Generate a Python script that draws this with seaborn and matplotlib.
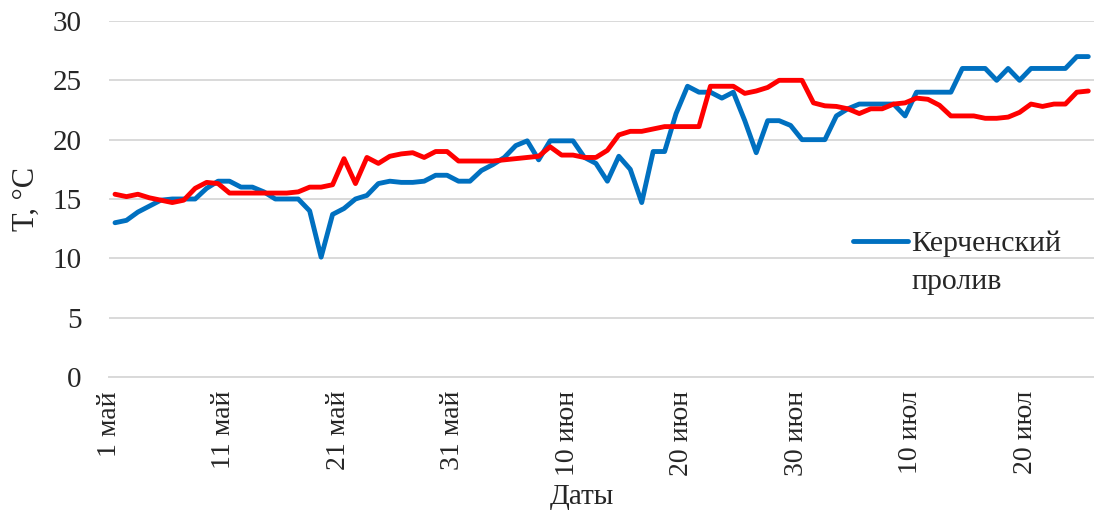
import pandas as pd
import numpy as np
import matplotlib
matplotlib.use("Agg")
import matplotlib.pyplot as plt
import matplotlib.ticker as mticker
from matplotlib.lines import Line2D
import seaborn as sns

# -----------------------------
# данные (1 май - 25 июл, по дням)
# -----------------------------
start_date = "2020-05-01"
n_days = 86

temp_kerch = [
    13.0, 13.2, 13.9, 14.4, 14.9, 15.0, 15.0, 15.0, 15.9, 16.5,
    16.5, 16.0, 16.0, 15.6, 15.0, 15.0, 15.0, 14.0, 10.1, 13.7,
    14.2, 15.0, 15.3, 16.3, 16.5, 16.4, 16.4, 16.5, 17.0, 17.0,
    16.5, 16.5, 17.4, 17.9, 18.5, 19.5, 19.9, 18.3, 19.9, 19.9,
    19.9, 18.5, 18.0, 16.5, 18.6, 17.5, 14.7, 19.0, 19.0, 22.2,
    24.5, 24.0, 24.0, 23.5, 24.0, 21.6, 18.9, 21.6, 21.6, 21.2,
    20.0, 20.0, 20.0, 22.0, 22.6, 23.0, 23.0, 23.0, 23.0, 22.0,
    24.0, 24.0, 24.0, 24.0, 26.0, 26.0, 26.0, 25.0, 26.0, 25.0,
    26.0, 26.0, 26.0, 26.0, 27.0, 27.0,
]

temp_red = [
    15.4, 15.2, 15.4, 15.1, 14.9, 14.7, 14.9, 15.9, 16.4, 16.3,
    15.5, 15.5, 15.5, 15.5, 15.5, 15.5, 15.6, 16.0, 16.0, 16.2,
    18.4, 16.3, 18.5, 18.0, 18.6, 18.8, 18.9, 18.5, 19.0, 19.0,
    18.2, 18.2, 18.2, 18.2, 18.3, 18.4, 18.5, 18.6, 19.4, 18.7,
    18.7, 18.5, 18.5, 19.1, 20.4, 20.7, 20.7, 20.9, 21.1, 21.1,
    21.1, 21.1, 24.5, 24.5, 24.5, 23.9, 24.1, 24.4, 25.0, 25.0,
    25.0, 23.1, 22.85, 22.8, 22.6, 22.2, 22.6, 22.6, 23.0, 23.1,
    23.5, 23.4, 22.9, 22.0, 22.0, 22.0, 21.8, 21.8, 21.9, 22.3,
    23.0, 22.8, 23.0, 23.0, 24.0, 24.1,
]

tick_dates = ["2020-05-01", "2020-05-11", "2020-05-21", "2020-05-31", "2020-06-10",
              "2020-06-20", "2020-06-30", "2020-07-10", "2020-07-20"]
tick_labels = ["1 май", "11 май", "21 май", "31 май", "10 июн",
               "20 июн", "30 июн", "10 июл", "20 июл"]

# -----------------------------
# оформление
# -----------------------------
sns.set_style("white")
plt.rcParams['font.family'] = ['Liberation Serif', 'DejaVu Serif']
plt.rcParams['axes.unicode_minus'] = False

# точки стоят в середине дня (как в Excel)
dates = pd.date_range(start_date, periods=n_days, freq="D") + pd.Timedelta(hours=12)
df = pd.DataFrame({"date": dates, "kerch": temp_kerch, "red": temp_red})

fig = plt.figure(figsize=(10.94, 5.17), dpi=100)
ax = fig.add_axes([0.0999, 0.2708, 0.9001, 0.6886])

sns.lineplot(data=df, x="date", y="kerch", ax=ax, color="#0070C0", linewidth=3.5)
sns.lineplot(data=df, x="date", y="red", ax=ax, color="#FF0000", linewidth=3.5)

ax.set_xlim(pd.Timestamp(start_date), pd.Timestamp(start_date) + pd.Timedelta(days=n_days))
ax.set_ylim(0, 30)
ax.yaxis.set_major_locator(mticker.MultipleLocator(5))

ax.set_xticks(pd.to_datetime(tick_dates))
ax.set_xticklabels(tick_labels, rotation=90, fontsize=20)
ax.tick_params(axis='x', direction='out', length=5, width=1.2, color='#d9d9d9', pad=5)
ax.tick_params(axis='y', length=0, labelsize=21, pad=20)

ax.grid(axis='y', color='#d9d9d9', linewidth=1.4)
ax.grid(axis='x', visible=False)
for side in ['left', 'right', 'top']:
    ax.spines[side].set_visible(False)
ax.spines['bottom'].set_color('#d9d9d9')
ax.spines['bottom'].set_linewidth(1.4)

ax.set_ylabel("T, °C", fontsize=22)
ax.yaxis.set_label_coords(-0.07, 0.5)
ax.set_xlabel("Даты", fontsize=21)
ax.xaxis.set_label_coords(0.48, -0.3)

# легенда: подпись переносится на две строки, линия у первой строки
handles = [Line2D([], [], color="#0070C0", linewidth=3.5),
           Line2D([], [], color="none")]
ax.legend(handles, ["Керченский", "пролив"], loc="upper left",
          bbox_to_anchor=(0.755, 0.412), frameon=False, fontsize=21.5,
          handlelength=1.84, handletextpad=0.13, labelspacing=0.37,
          borderaxespad=0, borderpad=0)

fig.savefig("out.png", dpi=100)
plt.close()
